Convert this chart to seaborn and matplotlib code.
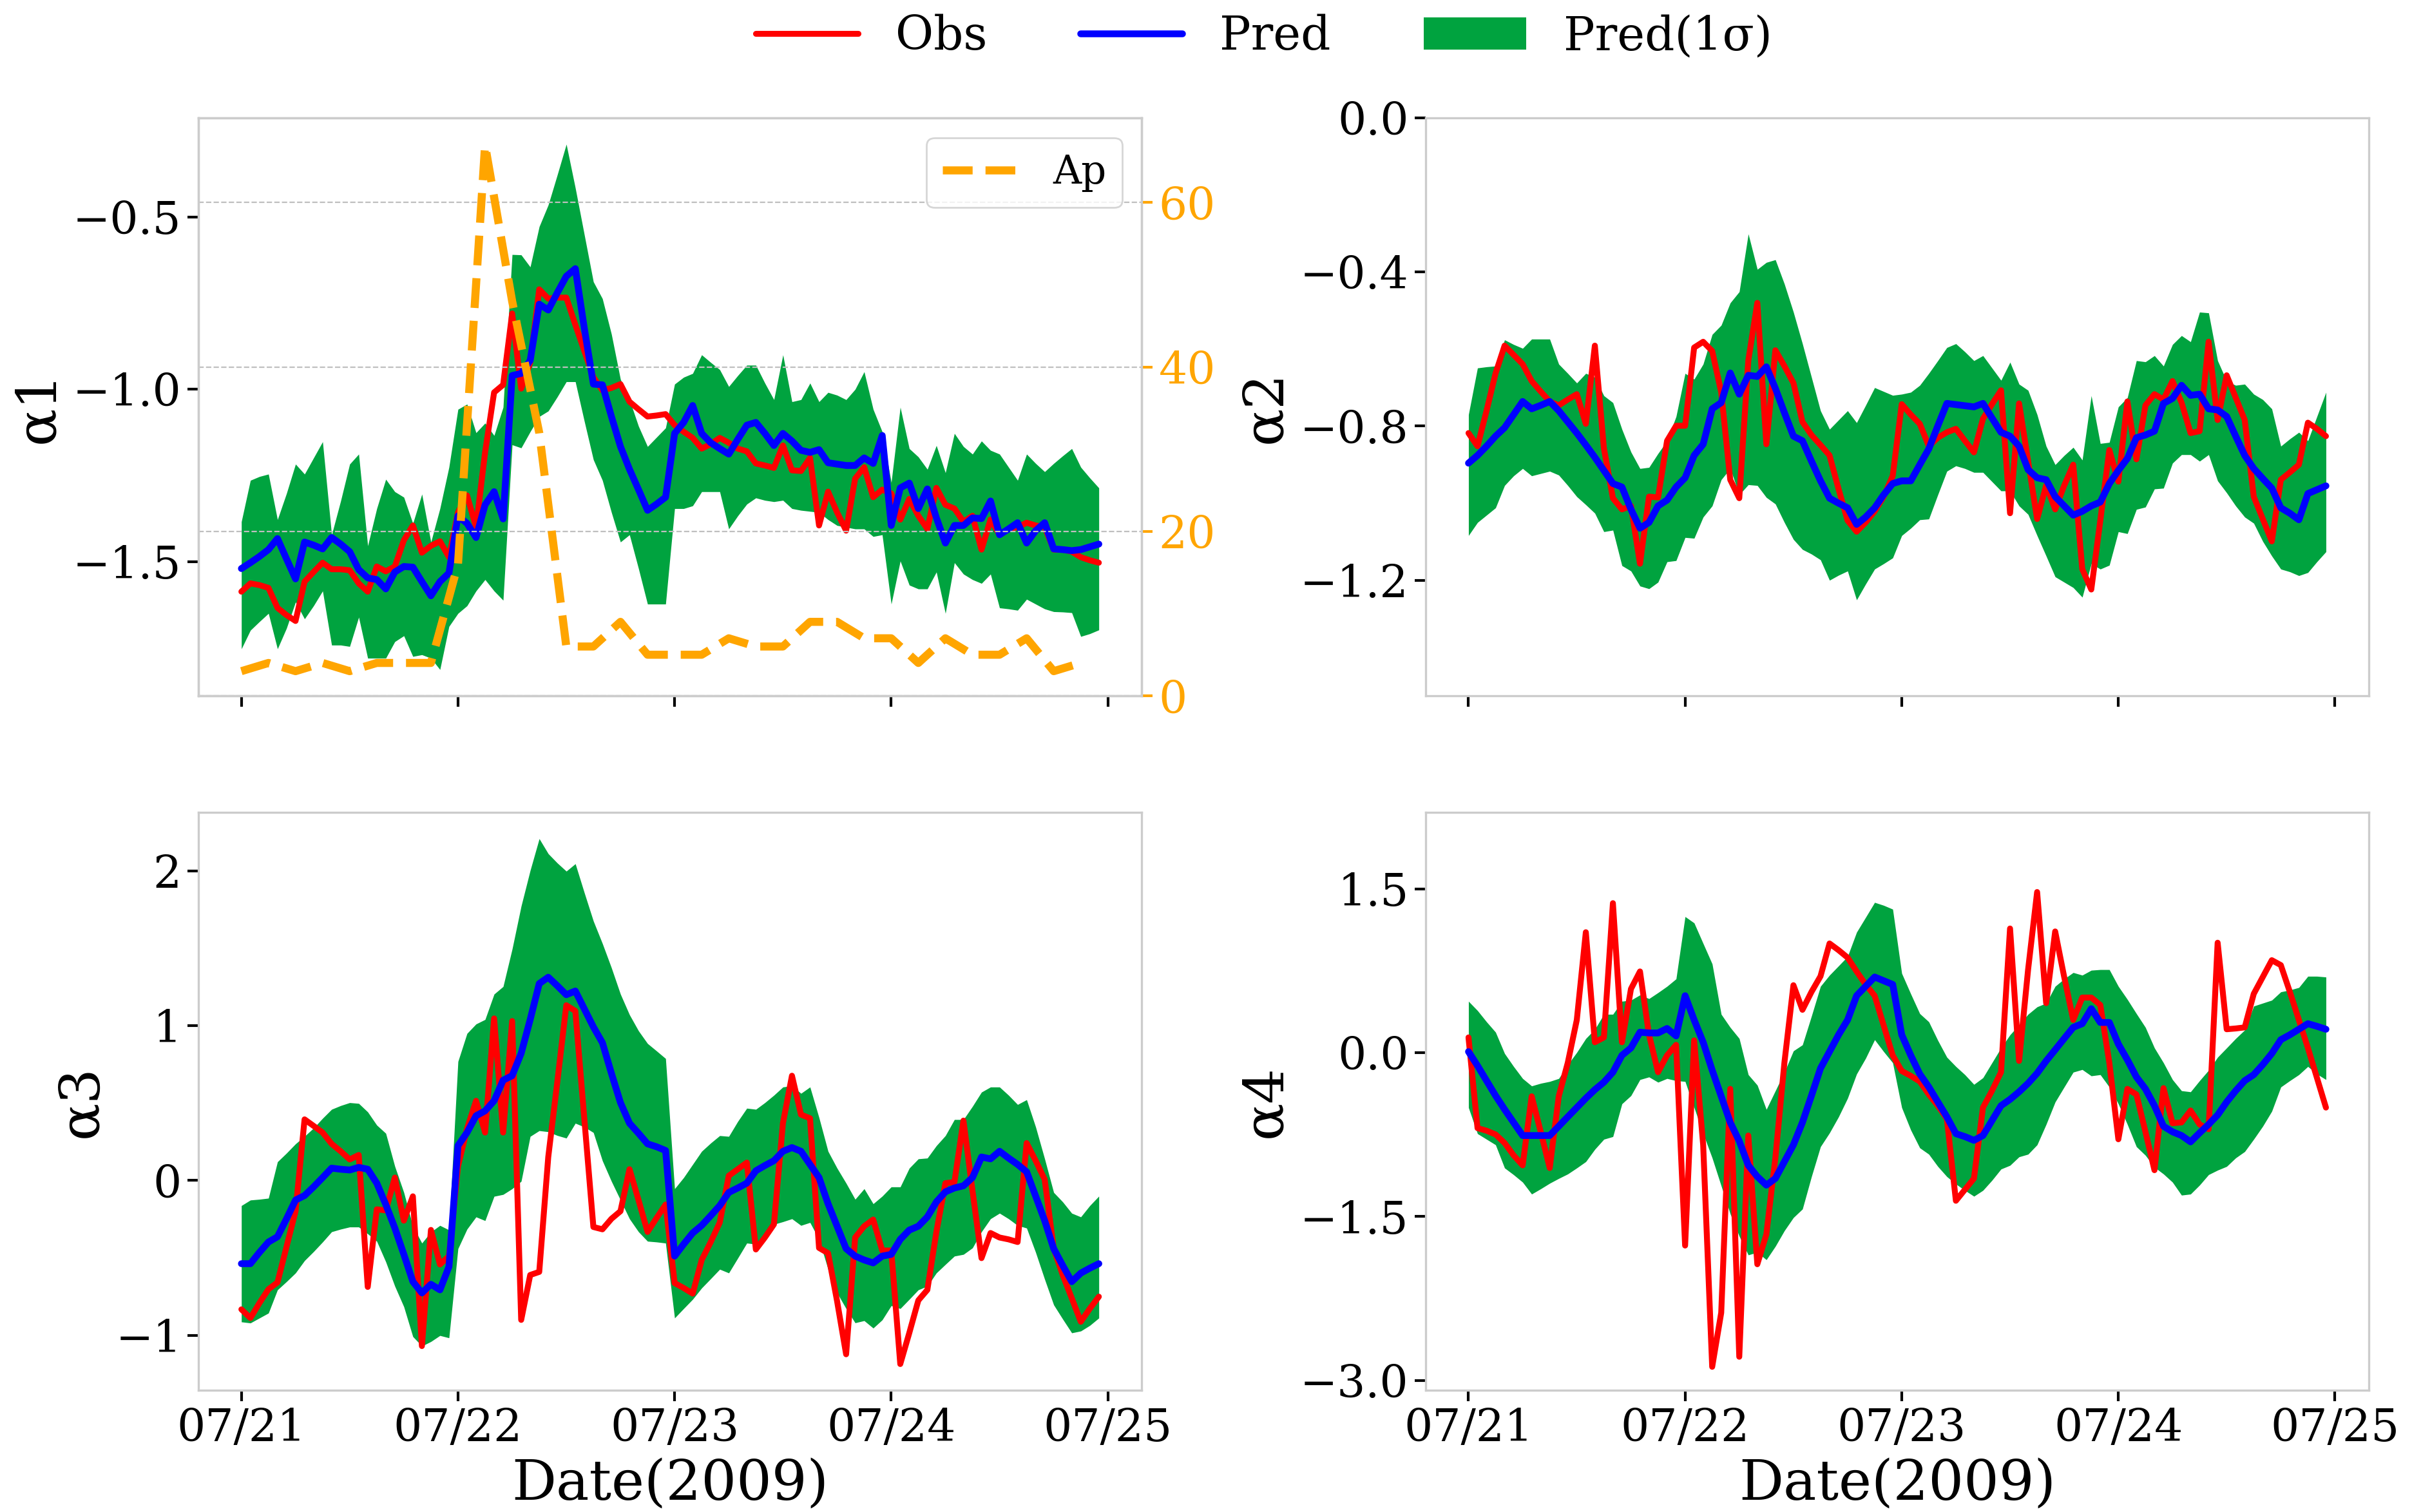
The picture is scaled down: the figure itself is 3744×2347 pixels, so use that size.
import matplotlib
matplotlib.use("Agg")
import numpy as np
import pandas as pd
import matplotlib.pyplot as plt
import matplotlib.dates as mdates
from matplotlib.lines import Line2D
from matplotlib.patches import Patch
import seaborn as sns

# hourly model times and 3-hourly Ap times
times = pd.date_range("2009-07-21 00:00", periods=96, freq="h")
ap_times = pd.date_range("2009-07-21 00:00", periods=32, freq="3h")

ap = [3, 4, 3, 4, 3, 4, 4, 4, 16, 67, 48, 32, 6, 6, 9, 5,
      5, 5, 7, 6, 6, 9, 9, 7, 7, 4, 7, 5, 5, 7, 3, 4]

# alpha1
a1_obs = [-1.587, -1.563, -1.568, -1.576, -1.634, -1.655, -1.672, -1.558, -1.530, -1.503, -1.522, -1.522,
          -1.525, -1.563, -1.587, -1.514, -1.528, -1.514, -1.438, -1.395, -1.474, -1.454, -1.441, -1.487,
          -1.357, -1.308, -1.400, -1.183, -1.009, -0.987, -0.780, -0.998, -0.922, -0.710, -0.737, -0.734,
          -0.734, -0.813, -0.889, -0.965, -1.003, -0.996, -0.985, -1.036, -1.058, -1.079, -1.076, -1.072,
          -1.104, -1.123, -1.141, -1.172, -1.159, -1.141, -1.155, -1.172, -1.180, -1.215, -1.221, -1.228,
          -1.163, -1.235, -1.237, -1.199, -1.395, -1.297, -1.357, -1.410, -1.259, -1.226, -1.313, -1.291,
          -1.302, -1.378, -1.318, -1.367, -1.405, -1.286, -1.335, -1.346, -1.384, -1.367, -1.465, -1.378,
          -1.422, -1.405, -1.400, -1.387, -1.395, -1.400, -1.465, -1.465, -1.471, -1.487, -1.496, -1.503]
a1_pred = [-1.520, -1.503, -1.485, -1.465, -1.433, -1.492, -1.550, -1.443, -1.452, -1.463, -1.430, -1.449,
           -1.471, -1.523, -1.547, -1.552, -1.579, -1.530, -1.514, -1.516, -1.558, -1.599, -1.558, -1.533,
           -1.367, -1.389, -1.430, -1.335, -1.297, -1.376, -0.960, -0.954, -0.916, -0.753, -0.770, -0.720,
           -0.672, -0.650, -0.824, -0.985, -0.987, -1.079, -1.166, -1.232, -1.291, -1.351, -1.333, -1.313,
           -1.128, -1.096, -1.047, -1.128, -1.155, -1.172, -1.188, -1.145, -1.104, -1.096, -1.128, -1.163,
           -1.128, -1.150, -1.177, -1.183, -1.175, -1.213, -1.217, -1.221, -1.221, -1.199, -1.215, -1.134,
           -1.395, -1.286, -1.272, -1.346, -1.289, -1.373, -1.446, -1.395, -1.395, -1.373, -1.375, -1.324,
           -1.422, -1.405, -1.387, -1.446, -1.410, -1.387, -1.463, -1.465, -1.468, -1.465, -1.457, -1.449]
a1_hi = [-1.384, -1.264, -1.253, -1.246, -1.378, -1.302, -1.217, -1.246, -1.199, -1.152, -1.422, -1.324,
         -1.217, -1.188, -1.454, -1.346, -1.261, -1.297, -1.313, -1.389, -1.304, -1.443, -1.346, -1.226,
         -1.058, -1.043, -1.126, -1.098, -1.134, -1.052, -0.609, -0.610, -0.645, -0.528, -0.465, -0.378,
         -0.289, -0.416, -0.552, -0.688, -0.737, -0.840, -0.971, -1.030, -1.107, -1.166, -1.139, -1.112,
         -0.985, -0.965, -0.954, -0.900, -0.922, -0.943, -0.992, -0.960, -0.930, -0.930, -0.982, -1.030,
         -0.900, -1.036, -1.030, -0.982, -1.036, -1.009, -1.017, -1.030, -1.000, -0.949, -1.058, -1.123,
         -1.270, -1.052, -1.172, -1.196, -1.232, -1.163, -1.242, -1.128, -1.166, -1.188, -1.150, -1.177,
         -1.188, -1.226, -1.264, -1.188, -1.215, -1.239, -1.215, -1.193, -1.172, -1.226, -1.257, -1.286]
a1_lo = [-1.753, -1.699, -1.674, -1.650, -1.753, -1.693, -1.617, -1.666, -1.628, -1.585, -1.742, -1.742,
         -1.746, -1.661, -1.780, -1.780, -1.780, -1.732, -1.715, -1.775, -1.770, -1.780, -1.813, -1.688,
         -1.650, -1.628, -1.585, -1.552, -1.585, -1.612, -1.161, -1.170, -1.123, -1.079, -1.063, -1.022,
         -0.978, -0.978, -1.093, -1.204, -1.264, -1.357, -1.443, -1.422, -1.520, -1.623, -1.623, -1.623,
         -1.346, -1.346, -1.338, -1.297, -1.297, -1.297, -1.405, -1.367, -1.333, -1.315, -1.322, -1.326,
         -1.322, -1.346, -1.351, -1.354, -1.357, -1.378, -1.395, -1.400, -1.405, -1.405, -1.427, -1.422,
         -1.623, -1.498, -1.568, -1.579, -1.579, -1.530, -1.650, -1.503, -1.536, -1.552, -1.563, -1.536,
         -1.634, -1.637, -1.641, -1.609, -1.623, -1.637, -1.645, -1.646, -1.648, -1.717, -1.709, -1.698]

# alpha2
a2_obs = [-0.818, -0.852, -0.760, -0.663, -0.591, -0.615, -0.639, -0.683, -0.710, -0.736, -0.746, -0.731,
          -0.717, -0.794, -0.591, -0.857, -0.987, -1.016, -1.007, -1.157, -0.983, -0.985, -0.838, -0.799,
          -0.799, -0.596, -0.581, -0.605, -0.712, -0.939, -0.987, -0.630, -0.480, -0.847, -0.603, -0.644,
          -0.688, -0.789, -0.823, -0.849, -0.876, -0.963, -1.045, -1.074, -1.050, -1.021, -0.983, -0.929,
          -0.743, -0.770, -0.794, -0.852, -0.830, -0.816, -0.807, -0.838, -0.868, -0.781, -0.743, -0.707,
          -1.026, -0.741, -0.891, -1.041, -0.954, -1.016, -0.954, -0.900, -1.171, -1.224, -1.045, -0.862,
          -0.944, -0.736, -0.886, -0.746, -0.717, -0.731, -0.683, -0.739, -0.818, -0.813, -0.581, -0.784,
          -0.668, -0.726, -0.784, -0.983, -1.041, -1.099, -0.939, -0.920, -0.900, -0.791, -0.807, -0.826]
a2_pred = [-0.896, -0.876, -0.852, -0.826, -0.804, -0.770, -0.736, -0.755, -0.746, -0.736, -0.760, -0.789,
           -0.818, -0.849, -0.881, -0.915, -0.949, -0.958, -1.016, -1.065, -1.050, -1.007, -0.992, -0.958,
           -0.934, -0.876, -0.847, -0.755, -0.739, -0.662, -0.717, -0.668, -0.671, -0.646, -0.702, -0.765,
           -0.826, -0.838, -0.891, -0.942, -0.987, -1.000, -1.012, -1.055, -1.036, -1.012, -0.978, -0.949,
           -0.942, -0.942, -0.900, -0.859, -0.799, -0.741, -0.744, -0.747, -0.750, -0.741, -0.779, -0.816,
           -0.826, -0.852, -0.913, -0.934, -0.939, -0.983, -1.007, -1.031, -1.021, -1.007, -0.997, -0.949,
           -0.915, -0.884, -0.830, -0.823, -0.813, -0.741, -0.728, -0.694, -0.720, -0.717, -0.755, -0.758,
           -0.775, -0.826, -0.876, -0.910, -0.936, -0.961, -1.012, -1.026, -1.043, -0.975, -0.965, -0.955]
a2_hi = [-0.770, -0.649, -0.646, -0.644, -0.576, -0.588, -0.598, -0.574, -0.574, -0.574, -0.639, -0.663,
         -0.688, -0.663, -0.673, -0.721, -0.739, -0.808, -0.867, -0.910, -0.907, -0.871, -0.838, -0.775,
         -0.663, -0.678, -0.639, -0.562, -0.538, -0.480, -0.451, -0.301, -0.393, -0.375, -0.368, -0.431,
         -0.504, -0.586, -0.673, -0.760, -0.808, -0.784, -0.760, -0.791, -0.746, -0.700, -0.710, -0.720,
         -0.717, -0.712, -0.694, -0.663, -0.630, -0.596, -0.586, -0.607, -0.630, -0.617, -0.649, -0.681,
         -0.634, -0.691, -0.707, -0.770, -0.852, -0.900, -0.876, -0.855, -0.888, -0.721, -0.845, -0.842,
         -0.750, -0.726, -0.630, -0.633, -0.617, -0.644, -0.588, -0.565, -0.581, -0.504, -0.506, -0.630,
         -0.683, -0.694, -0.691, -0.717, -0.731, -0.755, -0.852, -0.833, -0.816, -0.838, -0.775, -0.712]
a2_lo = [-1.084, -1.050, -1.031, -1.012, -0.954, -0.929, -0.910, -0.929, -0.923, -0.917, -0.927, -0.954,
         -0.983, -1.004, -1.026, -1.074, -1.070, -1.162, -1.176, -1.215, -1.222, -1.205, -1.152, -1.149,
         -1.089, -1.091, -1.036, -1.007, -0.939, -0.910, -0.978, -0.952, -0.954, -0.985, -1.002, -1.050,
         -1.094, -1.120, -1.132, -1.147, -1.200, -1.187, -1.176, -1.251, -1.210, -1.171, -1.157, -1.142,
         -1.084, -1.065, -1.043, -1.041, -0.978, -0.917, -0.903, -0.910, -0.920, -0.920, -0.944, -0.968,
         -0.968, -1.007, -1.029, -1.084, -1.137, -1.191, -1.205, -1.219, -1.244, -1.157, -1.171, -1.161,
         -1.074, -1.079, -1.016, -1.010, -0.963, -0.961, -0.896, -0.874, -0.874, -0.891, -0.874, -0.942,
         -0.973, -1.007, -1.036, -1.052, -1.099, -1.137, -1.171, -1.178, -1.188, -1.180, -1.152, -1.126]

# alpha3
a3_obs = [-0.833, -0.889, -0.792, -0.703, -0.659, -0.429, -0.199, 0.394, 0.352, 0.309, 0.236, 0.188,
          0.135, 0.164, -0.688, -0.187, -0.194, 0.018, -0.260, -0.103, -1.070, -0.320, -0.543, -0.489,
          0.091, 0.333, 0.514, 0.309, 1.046, 0.309, 1.029, -0.901, -0.611, -0.591, 0.151, 0.635,
          1.131, 1.094, 0.394, -0.301, -0.316, -0.248, -0.199, 0.072, -0.127, -0.333, -0.243, -0.156,
          -0.663, -0.695, -0.731, -0.514, -0.398, -0.272, 0.030, 0.072, 0.115, -0.446, -0.369, -0.284,
          0.369, 0.676, 0.425, 0.401, -0.436, -0.470, -0.780, -1.123, -0.369, -0.296, -0.253, -0.453,
          -0.453, -1.186, -0.985, -0.775, -0.707, -0.333, -0.018, -0.011, 0.386, -0.066, -0.502, -0.340,
          -0.369, -0.381, -0.398, 0.241, 0.127, 0.006, -0.441, -0.611, -0.761, -0.913, -0.828, -0.751]
a3_pred = [-0.538, -0.538, -0.465, -0.398, -0.364, -0.248, -0.127, -0.098, -0.042, 0.018, 0.079, 0.072,
           0.067, 0.084, 0.072, -0.018, -0.156, -0.308, -0.478, -0.654, -0.727, -0.671, -0.707, -0.557,
           0.224, 0.309, 0.417, 0.449, 0.514, 0.647, 0.676, 0.821, 1.039, 1.271, 1.312, 1.257,
           1.199, 1.223, 1.107, 0.991, 0.889, 0.691, 0.502, 0.369, 0.304, 0.236, 0.217, 0.193,
           -0.489, -0.412, -0.340, -0.291, -0.228, -0.163, -0.078, -0.049, -0.018, 0.062, 0.096, 0.127,
           0.188, 0.212, 0.188, 0.103, 0.018, -0.151, -0.296, -0.441, -0.489, -0.514, -0.533, -0.489,
           -0.478, -0.381, -0.321, -0.296, -0.236, -0.139, -0.074, -0.049, -0.035, 0.018, 0.151, 0.139,
           0.188, 0.144, 0.103, 0.055, -0.102, -0.260, -0.441, -0.550, -0.654, -0.599, -0.567, -0.538]
a3_hi = [-0.163, -0.127, -0.122, -0.115, 0.120, 0.176, 0.236, 0.285, 0.338, 0.401, 0.459, 0.483,
         0.502, 0.497, 0.442, 0.357, 0.304, 0.091, -0.078, -0.296, -0.405, -0.333, -0.291, -0.320,
         0.768, 0.949, 1.010, 1.039, 1.203, 1.252, 1.494, 1.772, 2.002, 2.207, 2.110, 2.050,
         1.997, 2.045, 1.857, 1.675, 1.530, 1.373, 1.203, 1.070, 0.966, 0.884, 0.836, 0.787,
         -0.054, 0.018, 0.103, 0.188, 0.241, 0.289, 0.284, 0.381, 0.466, 0.459, 0.502, 0.550,
         0.603, 0.611, 0.562, 0.603, 0.405, 0.188, 0.079, -0.018, -0.122, -0.054, -0.151, -0.102,
         -0.042, -0.042, 0.079, 0.139, 0.144, 0.224, 0.289, 0.393, 0.393, 0.478, 0.570, 0.603,
         0.603, 0.550, 0.490, 0.521, 0.345, 0.139, -0.078, -0.139, -0.212, -0.236, -0.163, -0.102]
a3_lo = [-0.914, -0.921, -0.889, -0.857, -0.707, -0.654, -0.598, -0.518, -0.460, -0.398, -0.332, -0.315,
         -0.301, -0.301, -0.345, -0.393, -0.526, -0.683, -0.816, -1.009, -1.070, -1.041, -1.002, -1.017,
         -0.441, -0.315, -0.236, -0.260, -0.103, -0.091, -0.054, -0.006, 0.284, 0.321, 0.314, 0.290,
         0.273, 0.369, 0.345, 0.309, 0.127, -0.006, -0.127, -0.248, -0.332, -0.393, -0.398, -0.405,
         -0.889, -0.828, -0.768, -0.695, -0.635, -0.574, -0.598, -0.502, -0.405, -0.412, -0.364, -0.284,
         -0.267, -0.248, -0.291, -0.272, -0.381, -0.574, -0.727, -0.828, -0.920, -0.906, -0.954, -0.901,
         -0.809, -0.828, -0.768, -0.707, -0.683, -0.598, -0.543, -0.489, -0.478, -0.436, -0.332, -0.248,
         -0.212, -0.248, -0.291, -0.308, -0.465, -0.639, -0.804, -0.896, -0.985, -0.973, -0.937, -0.889]

# alpha4
a4_obs = [0.140, -0.690, -0.714, -0.748, -0.826, -0.939, -1.031, -0.399, -0.724, -1.055, -0.399, -0.092,
          0.300, 1.103, 0.096, 0.140, 1.369, 0.096, 0.584, 0.744, 0.164, -0.178, -0.024, 0.072,
          -1.765, 0.113, -0.843, -2.875, -2.380, -0.331, -2.783, -0.758, -1.936, -1.663, -0.963, -0.092,
          0.618, 0.393, 0.557, 0.700, 1.000, 0.939, 0.871, 0.744, 0.625, 0.522, 0.249, -0.024,
          -0.167, -0.212, -0.263, -0.382, -0.485, -0.604, -1.355, -1.253, -1.151, -0.502, -0.348, -0.178,
          1.137, -0.075, 0.761, 1.471, 0.454, 1.110, 0.693, 0.300, 0.505, 0.505, 0.437, -0.092,
          -0.792, -0.331, -0.382, -0.724, -1.075, -0.324, -0.645, -0.638, -0.529, -0.656, -0.700, 1.007,
          0.215, 0.222, 0.232, 0.539, 0.693, 0.847, 0.802, 0.557, 0.300, 0.044, -0.229, -0.502]
a4_pred = [0.010, -0.119, -0.256, -0.393, -0.519, -0.639, -0.758, -0.758, -0.758, -0.758, -0.673, -0.587,
           -0.502, -0.417, -0.338, -0.270, -0.178, -0.024, 0.044, 0.188, 0.181, 0.181, 0.222, 0.154,
           0.522, 0.300, 0.096, -0.160, -0.399, -0.638, -0.809, -1.031, -1.134, -1.212, -1.151, -0.997,
           -0.843, -0.638, -0.393, -0.143, 0.010, 0.164, 0.300, 0.522, 0.608, 0.693, 0.659, 0.625,
           0.164, -0.024, -0.195, -0.314, -0.451, -0.587, -0.741, -0.768, -0.802, -0.758, -0.621, -0.485,
           -0.427, -0.358, -0.280, -0.188, -0.075, 0.027, 0.130, 0.232, 0.266, 0.403, 0.277, 0.277,
           0.079, -0.065, -0.222, -0.331, -0.485, -0.673, -0.724, -0.758, -0.816, -0.734, -0.656, -0.570,
           -0.451, -0.348, -0.256, -0.201, -0.109, -0.007, 0.119, 0.164, 0.215, 0.266, 0.242, 0.215]
a4_hi = [0.471, 0.386, 0.283, 0.188, -0.007, -0.126, -0.236, -0.304, -0.280, -0.263, -0.236, -0.109,
         0.003, 0.130, 0.215, 0.352, 0.352, 0.471, 0.481, 0.529, 0.495, 0.550, 0.608, 0.676,
         1.246, 1.188, 1.000, 0.813, 0.352, 0.232, 0.130, -0.201, -0.297, -0.519, -0.348, -0.178,
         0.017, 0.072, 0.335, 0.608, 0.710, 0.795, 0.881, 1.103, 1.239, 1.376, 1.349, 1.314,
         0.727, 0.539, 0.358, 0.283, 0.113, -0.041, -0.126, -0.201, -0.290, -0.229, -0.092, 0.044,
         0.164, 0.256, 0.352, 0.420, 0.454, 0.608, 0.676, 0.734, 0.710, 0.755, 0.761, 0.761,
         0.608, 0.488, 0.358, 0.232, 0.044, -0.092, -0.246, -0.348, -0.358, -0.256, -0.160, -0.041,
         0.044, 0.130, 0.208, 0.427, 0.454, 0.481, 0.557, 0.574, 0.597, 0.700, 0.700, 0.693]
a4_lo = [-0.502, -0.741, -0.792, -0.843, -1.055, -1.117, -1.185, -1.294, -1.246, -1.195, -1.151, -1.110,
         -1.055, -0.997, -0.884, -0.792, -0.768, -0.468, -0.393, -0.246, -0.222, -0.270, -0.236, -0.256,
         -0.263, -0.502, -0.741, -0.963, -1.219, -1.475, -1.680, -1.851, -1.827, -1.895, -1.772, -1.629,
         -1.509, -1.431, -1.134, -0.860, -0.734, -0.587, -0.417, -0.195, -0.051, 0.119, 0.010, -0.092,
         -0.502, -0.707, -0.871, -0.929, -1.041, -1.134, -1.202, -1.260, -1.314, -1.260, -1.168, -1.065,
         -1.031, -0.953, -0.929, -0.843, -0.656, -0.451, -0.314, -0.178, -0.154, -0.212, -0.201, -0.314,
         -0.468, -0.656, -0.860, -0.939, -1.048, -1.110, -1.185, -1.304, -1.294, -1.212, -1.116, -1.075,
         -1.041, -0.963, -0.905, -0.792, -0.673, -0.536, -0.314, -0.256, -0.201, -0.126, -0.195, -0.246]

labels = ["α1", "α2", "α3", "α4"]
yticks = [[-1.5, -1.0, -0.5], [-1.2, -0.8, -0.4, 0.0], [-1, 0, 1, 2], [-3.0, -1.5, 0.0, 1.5]]
ylims = [None, (-1.5, 0.0), None, (-3.09, 2.2)]

GREEN = "#00a33f"

sns.set_style("whitegrid")
plt.rcParams["font.family"] = ["DejaVu Serif"]
plt.rcParams["text.color"] = "black"
plt.rcParams["axes.labelcolor"] = "black"
plt.rcParams["xtick.color"] = "black"
plt.rcParams["ytick.color"] = "black"

fig, axes = plt.subplots(2, 2, figsize=(18.72, 11.735), dpi=200, sharex=True)
fig.subplots_adjust(left=0.0823, right=0.9821, top=0.922, bottom=0.0805,
                    wspace=0.301, hspace=0.2017)

panels = [(a1_obs, a1_pred, a1_lo, a1_hi), (a2_obs, a2_pred, a2_lo, a2_hi),
          (a3_obs, a3_pred, a3_lo, a3_hi), (a4_obs, a4_pred, a4_lo, a4_hi)]

for i, ax in enumerate(axes.flat):
    obs, pred, lo, hi = panels[i]
    ax.fill_between(times, lo, hi, color=GREEN, lw=0)
    sns.lineplot(x=times, y=obs, ax=ax, color="red", lw=3.3, errorbar=None)
    sns.lineplot(x=times, y=pred, ax=ax, color="blue", lw=3.8, errorbar=None)
    ax.grid(False)
    ax.set_ylabel(labels[i], fontsize=31)
    ax.set_yticks(yticks[i])
    if ylims[i] is not None:
        ax.set_ylim(ylims[i])
    ax.tick_params(axis="both", labelsize=25, length=6, width=1.5,
                   left=True, bottom=True, direction="out")
    for s in ax.spines.values():
        s.set_color("0.8")
        s.set_linewidth(1.2)
    ax.xaxis.set_major_locator(mdates.DayLocator())
    ax.xaxis.set_major_formatter(mdates.DateFormatter("%m/%d"))
    if i >= 2:
        ax.set_xlabel("Date(2009)", fontsize=31)
    else:
        ax.set_xlabel("")

# Ap on the twin axis of the first panel
ax1 = axes[0, 0]
axt = ax1.twinx()
sns.lineplot(x=ap_times, y=ap, ax=axt, color="orange", lw=4.5, linestyle="--", errorbar=None)
axt.set_ylim(0, 70.3)
axt.set_yticks([0, 20, 40, 60])
axt.set_ylabel("")
axt.grid(False)
axt.grid(True, axis="y", linestyle="--", linewidth=0.8, color="0.75")
axt.tick_params(axis="y", colors="orange", labelsize=25, length=6, width=1.5, right=True)
for s in axt.spines.values():
    s.set_color("0.8")
    s.set_linewidth(1.2)
axt.legend(handles=[Line2D([], [], color="orange", lw=4.5, linestyle="--")], labels=["Ap"],
           loc="upper right", fontsize=22)

handles = [Line2D([], [], color="red", lw=3.3), Line2D([], [], color="blue", lw=3.8),
           Patch(facecolor=GREEN, edgecolor="none")]
fig.legend(handles=handles, labels=["Obs", "Pred", "Pred(1σ)"], loc="center",
           bbox_to_anchor=(0.524, 0.9757), ncol=3, frameon=False, fontsize=26,
           handlelength=2.2)

fig.savefig("out.png", dpi=200)
